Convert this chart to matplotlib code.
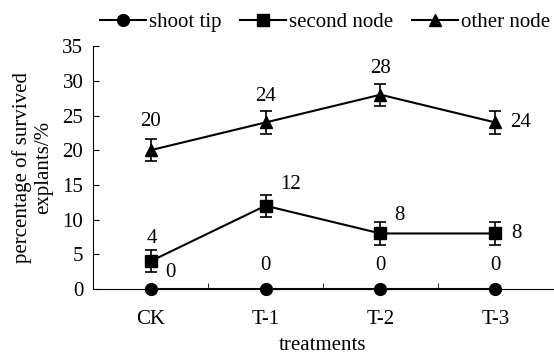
import matplotlib

matplotlib.use("Agg")
import matplotlib.pyplot as plt
from matplotlib.lines import Line2D

plt.rcParams["font.family"] = ["Liberation Serif", "DejaVu Serif"]

treatments = ["CK", "T-1", "T-2", "T-3"]
shoot_tip = [0, 0, 0, 0]
second_node = [4, 12, 8, 8]
other_node = [20, 24, 28, 24]
second_err = [1.6, 1.6, 1.6, 1.6]
other_err = [1.6, 1.6, 1.6, 1.6]

# label offsets (points) from each marker, centred text
OFFSETS = {
    "shoot": [(14, 12), (0, 17), (0, 17), (0, 17)],
    "second": [(1, 16.5), (18, 15), (14, 13), (15, 0)],
    "other": [(0, 21), (0, 19), (0, 19), (18, 0)],
}

FS = 15

fig = plt.figure(figsize=(5.54, 3.55), dpi=100)
ax = fig.add_axes([0.168, 0.186, 0.83, 0.684])

x = list(range(len(treatments)))
line = dict(color="black", linewidth=1.5, markersize=8.5, clip_on=False, zorder=3)
bars = dict(capsize=4, elinewidth=1.2, capthick=1.2)
ax.plot(x, shoot_tip, marker="o", **line)
ax.errorbar(x, second_node, yerr=second_err, marker="s", **line, **bars)
ax.errorbar(x, other_node, yerr=other_err, marker="^", **line, **bars)

for key, values in (("shoot", shoot_tip), ("second", second_node), ("other", other_node)):
    for i, v in enumerate(values):
        ax.annotate(f"{v}", (i, v), xytext=OFFSETS[key][i], textcoords="offset points",
                    ha="center", va="center", fontsize=FS)

ax.set_xlim(-0.5, 3.5)
ax.set_ylim(0, 35)
ax.set_yticks(range(0, 36, 5))
ax.set_xticks(x)
ax.set_xticklabels(treatments)
ax.set_xticks([0.5, 1.5, 2.5], minor=True)
ax.tick_params(axis="x", which="major", length=0, labelsize=FS, pad=15)
ax.tick_params(axis="x", which="minor", direction="in", length=4)
ax.tick_params(axis="y", direction="in", length=4, labelsize=FS, pad=7)
for side in ("top", "right"):
    ax.spines[side].set_visible(False)

ax.set_xlabel("treatments", fontsize=FS, labelpad=5)
ax.set_ylabel("percentage of survived\nexplants/%", fontsize=FS, linespacing=1.15)
ax.yaxis.set_label_coords(-0.087, 0.5)

handles = [
    Line2D([], [], color="black", marker=m, markersize=8.5, linewidth=1.5)
    for m in ("o", "s", "^")
]
fig.legend(handles, ["shoot tip", "second node", "other node"], loc="center left",
           bbox_to_anchor=(100 / 554, 1 - 22 / 355), ncol=3, frameon=False, fontsize=FS,
           handlelength=2.2, handletextpad=0.15, columnspacing=0.9,
           borderaxespad=0, borderpad=0)

fig.savefig("out.png", dpi=100)
